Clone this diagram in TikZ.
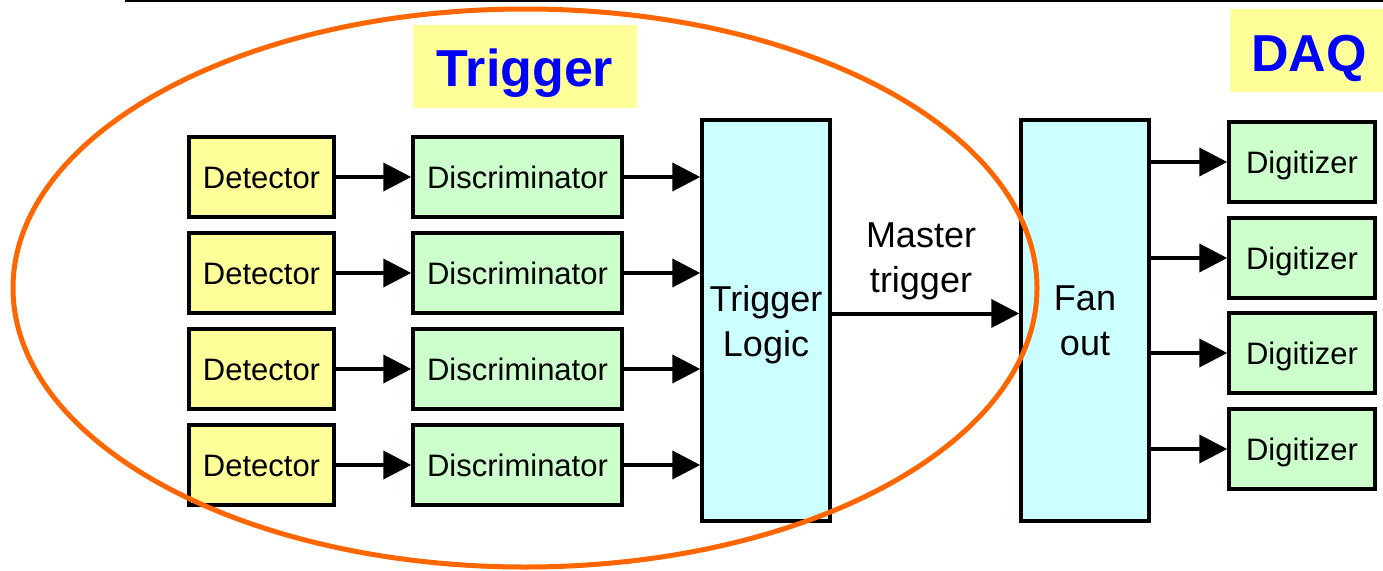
\documentclass[tikz,border=0pt]{standalone}
\usepackage{fontspec}
\setmainfont{Liberation Sans}
\usetikzlibrary{arrows.meta}
\definecolor{boxyellow}{HTML}{FFFF99}
\definecolor{boxgreen}{HTML}{CCFFCC}
\definecolor{boxcyan}{HTML}{CCFFFF}
\definecolor{ovalorange}{HTML}{FF6600}
\definecolor{labelblue}{HTML}{0000FF}
\tikzset{
  blk/.style={draw=black, line width=3.5pt, inner sep=0pt, align=center},
  smalltext/.style={font=\fontsize{31}{36}\selectfont, text height=22.5pt, text depth=0pt},
  detbox/.style={blk, smalltext, fill=boxyellow, minimum width=145pt, minimum height=80pt},
  discbox/.style={blk, smalltext, fill=boxgreen, minimum width=209pt, minimum height=80pt},
  digbox/.style={blk, smalltext, fill=boxgreen, minimum width=146pt, minimum height=80pt},
  tallbox/.style={blk, fill=boxcyan, minimum width=128pt, minimum height=401pt, font=\fontsize{36}{45}\selectfont, text depth=0pt},
  arr/.style={line width=4pt, -{Triangle[length=28pt,width=28pt]}},
  biglabel/.style={text=labelblue, font=\fontsize{52}{60}\selectfont\bfseries, inner sep=0pt, text height=38pt, text depth=0pt},
}
\begin{document}
\begin{tikzpicture}[x=1pt,y=-1pt]
\useasboundingbox (0,0) rectangle (1383,570);
\draw[line width=2pt] (125,1) -- (1383,1);
% labels
\fill[boxyellow] (413,25) rectangle (637,108);
\node[biglabel] (trglabel) at (525,67.5) {Trigger};
\fill[boxyellow] (1230,9) rectangle (1383,92);
\node[biglabel] (daqlabel) at (1309,52.5) {DAQ};
% tall boxes
\node[tallbox] (tl) at (766,320.5) {Trigger\\Logic};
\node[tallbox] (fo) at (1085,320.5) {Fan\\out};
% rows
\foreach \i/\y in {1/177,2/273,3/369,4/465}{
  \node[detbox] (det\i) at (261.5,\y) {Detector};
  \node[discbox] (disc\i) at (517.5,\y) {Discriminator};
  \draw[arr] (det\i) -- (disc\i);
  \draw[arr] (disc\i.east) -- (disc\i.east -| tl.west);
}
\foreach \i/\y in {1/162,2/258,3/353,4/449}{
  \node[digbox] (dig\i) at (1302,\y) {Digitizer};
  \draw[arr] (dig\i.west -| fo.east) -- (dig\i.west);
}
% master trigger
\coordinate (mtstart) at ([yshift=7pt]tl.east);
\draw[arr] (mtstart) -- (mtstart -| fo.west);
\node[align=center, font=\fontsize{36}{45}\selectfont, inner sep=0pt] (mtlabel) at (921,261) {Master\\trigger};
% oval
\draw[ovalorange, line width=5pt] (525,288) ellipse [x radius=512pt, y radius=279pt];
\end{tikzpicture}
\end{document}
